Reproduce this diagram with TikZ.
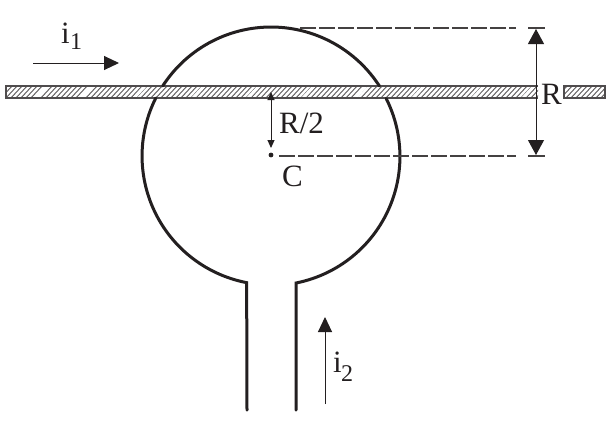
\documentclass[tikz,border=0pt]{standalone}
\usepackage{fontspec}
\setmainfont{Liberation Serif}
\usetikzlibrary{arrows.meta}
\definecolor{ink}{HTML}{231F20}
\tikzset{
  wire/.style={draw=ink,line width=3pt,line cap=round,line join=miter},
  thin arrow/.style={draw=ink,line width=1pt,-{Triangle[length=15pt,width=14pt]}},
  dim arrow/.style={draw=ink,line width=1pt,{Triangle[length=15pt,width=16pt]}-{Triangle[length=15pt,width=16pt]}},
  small dim/.style={draw=ink,line width=1pt,{Triangle[length=8pt,width=7pt]}-{Triangle[length=8pt,width=7pt]}},
  guide/.style={draw=ink!85,line width=1.1pt,dash pattern=on 16pt off 3pt},
  guide end/.style={draw=ink!85,line width=1.1pt},
  label/.style={font=\fontsize{31}{32}\selectfont,text=ink,inner sep=0pt},
  sublabel/.style={font=\fontsize{24}{25}\selectfont,text=ink,inner sep=0pt},
  hatch/.style={draw=ink!75,line width=.9pt},
  band/.style={draw=ink!80,line width=1.2pt}
}
\begin{document}
\begin{tikzpicture}[x=1pt,y=-1pt]
\useasboundingbox (0,0) rectangle (610,421);
\fill[white] (0,0) rectangle (610,421);
\coordinate (c) at (271,156);
% bars
\begin{scope}
\clip (6,86) rectangle (538,98);
\foreach \x in {0,5,...,550}{\draw[hatch] (\x,99) -- (\x+13,85);}
\foreach \x in {33,78,131,190,245,300,352,410,470,520}{\fill[white] (\x,99) -- (\x+4,99) -- (\x+17,85) -- (\x+13,85) -- cycle;}
\end{scope}
\begin{scope}
\clip (564,86) rectangle (605,98);
\foreach \x in {550,555,...,610}{\draw[hatch] (\x,99) -- (\x+13,85);}
\end{scope}
\draw[band] (538,86) -- (6,86) -- (6,98) -- (538,98);
\draw[band] (564,86) -- (605,86) -- (605,98) -- (564,98) -- cycle;
% loop
\coordinate (tl) at (162.7,86);
\coordinate (ll) at (155.8,98);
\coordinate (gl) at (247,283);
\coordinate (gr) at (296,283);
\coordinate (el) at (247,410);
\coordinate (er) at (296,410);
\draw[wire] (tl) arc[start angle=147.13,end angle=32.87,radius=129pt];
\draw[wire] (ll) arc[start angle=153.3,end angle=259.1,radius=129pt] -- (el);
\draw[wire] (er) -- (gr) arc[start angle=281.2,end angle=386.7,radius=129pt];
% guides
\coordinate (g1a) at (300,28); \coordinate (g1b) at (516,28);
\coordinate (g1c) at (528,28); \coordinate (g1d) at (545,28);
\coordinate (g2a) at (279,156); \coordinate (g2b) at (516,156);
\coordinate (g2c) at (528,156); \coordinate (g2d) at (545,156);
\draw[guide] (g1a) -- (g1b);
\draw[guide end] (g1c) -- (g1d);
\draw[guide] (g2a) -- (g2b);
\draw[guide end] (g2c) -- (g2d);
% dimensions
\coordinate (ra) at (536,29); \coordinate (rb) at (536,155);
\draw[dim arrow] (ra) -- (rb);
\coordinate (sa) at (271,92); \coordinate (sb) at (271,148);
\draw[small dim] (sa) -- (sb);
\fill[ink] (c) ++(0,-1) circle (2.4pt);
% currents
\coordinate (i1a) at (33,63); \coordinate (i1b) at (119,63);
\draw[thin arrow] (i1a) -- (i1b);
\coordinate (i2a) at (325,404); \coordinate (i2b) at (325,317);
\draw[thin arrow] (i2a) -- (i2b);
% labels
\node[label,anchor=base west] (li1) at (61,43) {i};
\node[sublabel,anchor=base west] (li1s) at (70,49) {1};
\node[label,anchor=base west] (li2) at (333,372) {i};
\node[sublabel,anchor=base west] (li2s) at (341,381) {2};
\node[label,anchor=base west] (lr2) at (279,133) {R/2};
\node[label,anchor=base west] (lc) at (282,186) {C};
\node[label,anchor=base west] (lr) at (541,104) {R};
\end{tikzpicture}
\end{document}
